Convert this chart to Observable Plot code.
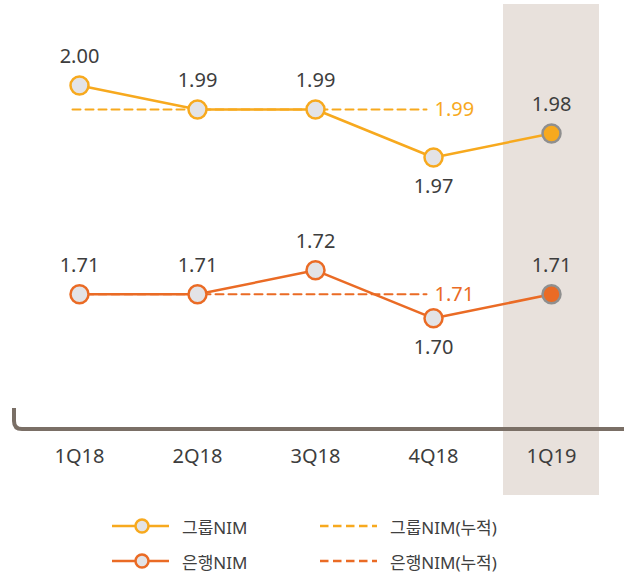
<!DOCTYPE html>
<html><head><meta charset="utf-8">
<script src="https://cdn.jsdelivr.net/npm/d3@7"></script>
<script src="https://cdn.jsdelivr.net/npm/@observablehq/plot@0.6"></script>
<style>
body{margin:0;background:#fff;font-family:"Noto Sans","Noto Sans CJK KR",sans-serif;}
#wrap{position:relative;width:624px;height:572px;overflow:hidden;}
.leg{position:absolute;display:flex;align-items:center;font-size:17px;color:#404040;height:20px;white-space:nowrap;}
.leg svg{display:block;}
</style></head><body><div id="wrap"><div id="chart"></div></div>
<script>
// ---- data ----
const quarters = ["1Q18","2Q18","3Q18","4Q18","1Q19"];
const groupNIM = [2.00, 1.99, 1.99, 1.97, 1.98];
const bankNIM  = [1.71, 1.71, 1.72, 1.70, 1.71];
const groupCum = 1.99;
const bankCum  = 1.71;
const cumQuarters = ["1Q18","2Q18","3Q18","4Q18"];
const highlightQuarter = "1Q19";
const labelBelowQuarter = "4Q18";
const seriesNames = ["그룹NIM", "은행NIM"];
const cumNames = ["그룹NIM(누적)", "은행NIM(누적)"];

// ---- styling / layout ----
const colors = {"그룹NIM": "#f7a91e", "은행NIM": "#ea6b25"};
const pointFill = "#e3e3e6";
const highlightStroke = "#8f8f8f";
const shadeColor = "#e8e1dc";
const axisColor = "#7a6f66";
const textColor = "#3d3d3d";
const BANK_SHIFT = 0.203; // broken-axis display offset for the bank series
const W = 624, H = 500;

const shiftOf = s => s === seriesNames[1] ? BANK_SHIFT : 0;
const rows = [];
seriesNames.forEach((s, si) => {
  const vals = si === 0 ? groupNIM : bankNIM;
  quarters.forEach((q, i) => rows.push({series: s, quarter: q, value: vals[i], yv: vals[i] + shiftOf(s)}));
});
const cumRows = [];
seriesNames.forEach((s, si) => {
  const v = si === 0 ? groupCum : bankCum;
  cumQuarters.forEach(q => cumRows.push({series: s, quarter: q, value: v, yv: v + shiftOf(s)}));
});
const cumLabels = seriesNames.map((s, si) => {
  const v = si === 0 ? groupCum : bankCum;
  return {series: s, quarter: cumQuarters[cumQuarters.length - 1], value: v, yv: v + shiftOf(s)};
});

const fmt = d3.format(".2f");

const plot = Plot.plot({
  width: W, height: H,
  marginTop: 4, marginBottom: 5, marginLeft: 9, marginRight: 3,
  style: {fontFamily: '"Noto Sans","Noto Sans CJK KR",sans-serif', color: textColor, background: "transparent"},
  x: {type: "band", domain: quarters, padding: 0.186, label: null},
  y: {type: "linear", domain: [1.80, 2.00], range: [565, 85], axis: null},
  marks: [
    Plot.cell([highlightQuarter], {x: d => d, fill: shadeColor}),
    Plot.axisX({tickSize: 0, fontSize: 20, dy: -56, fill: textColor, label: null}),
    Plot.line(cumRows, {x: "quarter", y: "yv", z: "series", stroke: d => colors[d.series], strokeWidth: 2, strokeDasharray: "8,5", dx: -7}),
    Plot.text(cumLabels, {x: "quarter", y: "yv", text: d => fmt(d.value), fill: d => colors[d.series], textAnchor: "start", dx: 1, fontSize: 20}),
    Plot.line(rows, {x: "quarter", y: "yv", z: "series", stroke: d => colors[d.series], strokeWidth: 2.5}),
    Plot.dot(rows, {x: "quarter", y: "yv", r: 9,
      fill: d => d.quarter === highlightQuarter ? colors[d.series] : pointFill,
      stroke: d => d.quarter === highlightQuarter ? highlightStroke : colors[d.series], strokeWidth: 2.5}),
    Plot.text(rows.filter(d => d.quarter !== labelBelowQuarter), {x: "quarter", y: "yv", text: d => fmt(d.value), dy: -29, fontSize: 20, fill: textColor}),
    Plot.text(rows.filter(d => d.quarter === labelBelowQuarter), {x: "quarter", y: "yv", text: d => fmt(d.value), dy: 29, fontSize: 20, fill: textColor})
  ]
});

// bracket-shaped baseline (decoration)
const by = H - 71;
d3.select(plot).append("path")
  .attr("d", `M14,${by - 21} V${by - 8} Q14,${by} 22,${by} H${W}`)
  .attr("fill", "none").attr("stroke", axisColor).attr("stroke-width", 4);

document.getElementById("chart").appendChild(plot);

// ---- legend ----
const wrap = document.getElementById("wrap");
function addItem(left, cy, kind, color, label) {
  const div = document.createElement("div");
  div.className = "leg";
  div.style.left = left + "px";
  div.style.top = (cy - 10) + "px";
  const ns = "http://www.w3.org/2000/svg";
  const svg = document.createElementNS(ns, "svg");
  svg.setAttribute("width", 57); svg.setAttribute("height", 20);
  const line = document.createElementNS(ns, "line");
  line.setAttribute("x1", 0); line.setAttribute("x2", 57);
  line.setAttribute("y1", 10); line.setAttribute("y2", 10);
  line.setAttribute("stroke", color); line.setAttribute("stroke-width", 2.5);
  if (kind === "dash") line.setAttribute("stroke-dasharray", "8.5,4.5");
  svg.appendChild(line);
  if (kind === "dot") {
    const c = document.createElementNS(ns, "circle");
    c.setAttribute("cx", 30); c.setAttribute("cy", 10); c.setAttribute("r", 6.5);
    c.setAttribute("fill", pointFill); c.setAttribute("stroke", color); c.setAttribute("stroke-width", 2.5);
    svg.appendChild(c);
  }
  div.appendChild(svg);
  const span = document.createElement("span");
  span.textContent = label;
  span.style.marginLeft = "13px";
  div.appendChild(span);
  wrap.appendChild(div);
}
seriesNames.forEach((s, i) => {
  const cy = 526 + i * 35;
  addItem(112, cy, "dot", colors[s], s);
  addItem(320, cy, "dash", colors[s], cumNames[i]);
});
</script>
</body></html>
